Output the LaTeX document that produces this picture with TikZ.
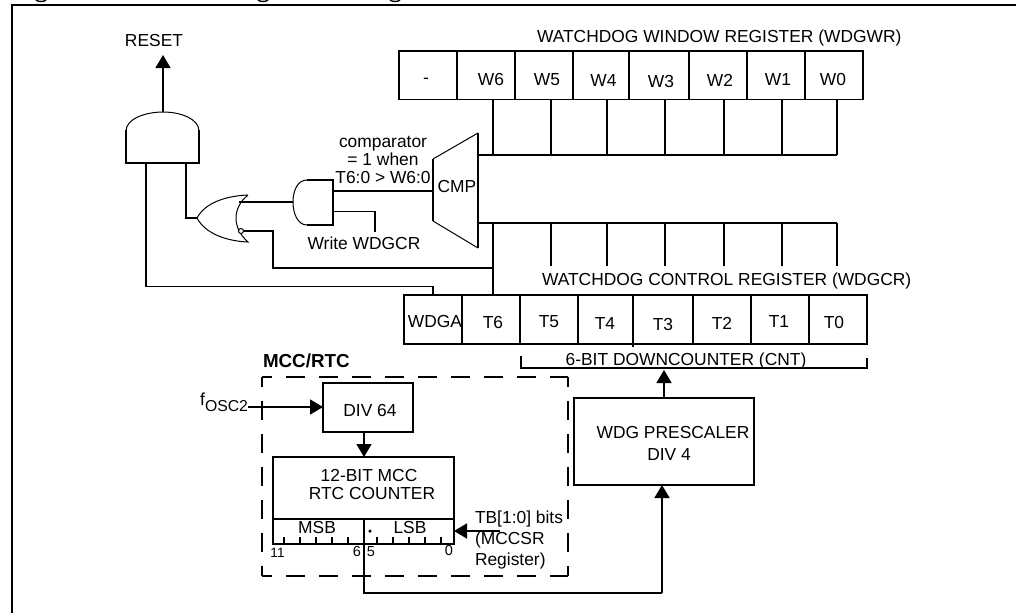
\documentclass[tikz,border=0pt]{standalone}
\usepackage{fontspec}
\setmainfont{Liberation Sans}
\usetikzlibrary{arrows.meta}
\newcommand{\regbox}[5]{%
  \pgfmathsetmacro{\bw}{#4-#2}\pgfmathsetmacro{\bh}{#5-#3}%
  \pgfmathsetmacro{\bx}{(#4+#2)/2}\pgfmathsetmacro{\by}{(#5+#3)/2}%
  \node[regcell,minimum width=\bw pt,minimum height=\bh pt] (#1) at (\bx,\by) {};}
\begin{document}
\begin{tikzpicture}[x=1pt,y=-1pt,
  wire/.style={line width=1.7pt,line cap=butt,line join=miter},
  thin gate/.style={line width=1pt},
  regcell/.style={draw,line width=1.7pt,inner sep=0pt,outer sep=0pt},
  lbl/.style={inner sep=0pt,outer sep=0pt,text height=12.5pt,text depth=0pt,font=\fontsize{17.4}{18}\selectfont},
  para/.style={inner sep=0pt,outer sep=0pt,font=\fontsize{17.4}{18}\selectfont},
  small lbl/.style={inner sep=0pt,outer sep=0pt,font=\fontsize{14.5}{15}\selectfont},
  flow/.style={wire,-{Triangle[length=13pt,width=15pt]}},
  dashbox/.style={line width=1.8pt,dash pattern=on 19pt off 14pt,dash phase=9pt}]
\useasboundingbox (0,0) rectangle (1016,613);
% frame and clipped title descenders
\draw[line width=2pt] (1016,5) -- (12,5) -- (12,613);
\foreach \gx in {41,263,395} \draw[line width=1.4pt] (\gx-5,0) .. controls (\gx-3,2) and (\gx+3,2) .. (\gx+5,0);
% WDGWR register
\regbox{wd}{399}{51}{457}{99.5}
\regbox{w6}{457}{51}{515}{99.5}
\regbox{w5}{515}{51}{573}{99.5}
\regbox{w4}{573}{51}{629}{99.5}
\regbox{w3}{629}{51}{689}{99.5}
\regbox{w2}{689}{51}{747}{99.5}
\regbox{w1}{747}{51}{805}{99.5}
\regbox{w0}{805}{51}{863}{99.5}
\node[lbl] (lwd) at (426,77) {-};
\node[lbl] (lw6) at (491,79) {W6};
\node[lbl] (lw5) at (547,79) {W5};
\node[lbl] (lw4) at (603.5,80.5) {W4};
\node[lbl] (lw3) at (661,81) {W3};
\node[lbl] (lw2) at (720,80.5) {W2};
\node[lbl] (lw1) at (778,79) {W1};
\node[lbl] (lw0) at (833,79) {W0};
\node[lbl,anchor=west] (wwrt) at (537,36) {WATCHDOG WINDOW REGISTER (WDGWR)};
% WDGCR register
\regbox{ta}{404}{295}{462}{344}
\regbox{t6}{462}{295}{520}{344}
\regbox{t5}{520}{295}{578}{344}
\regbox{t4}{578}{295}{633}{344}
\regbox{t3}{633}{295}{693}{344}
\regbox{t2}{693}{295}{751}{344}
\regbox{t1}{751}{295}{809}{344}
\regbox{t0}{809}{295}{867}{344}
\node[lbl] (lta) at (435,321.5) {WDGA};
\node[lbl] (lt6) at (493,322) {T6};
\node[lbl] (lt5) at (549,321) {T5};
\node[lbl] (lt4) at (605,323) {T4};
\node[lbl] (lt3) at (663,324) {T3};
\node[lbl] (lt2) at (722,323) {T2};
\node[lbl] (lt1) at (779,321) {T1};
\node[lbl] (lt0) at (834,322) {T0};
\node[lbl,anchor=west] (wcrt) at (542,279) {WATCHDOG CONTROL REGISTER (WDGCR)};
\coordinate (t3tick) at (633,346.5);
\draw[wire] (t3.south west) -- (t3tick);
% downcounter bracket
\node[lbl] (cntl) at (686,359) {6-BIT DOWNCOUNTER (CNT)};
\coordinate (brL) at (521,356);
\coordinate (brR) at (867,358);
\coordinate (brM) at (664,368);
\draw[wire] (brL) |- (brM) -| (brR);
% comparator
\coordinate (cmpTR) at (478,133);
\coordinate (cmpBR) at (478,248);
\coordinate (cmpTL) at (433,159);
\coordinate (cmpBL) at (433,221);
\draw[thin gate] (cmpTL) -- (cmpTR) (cmpBL) -- (cmpBR);
\draw[wire] (cmpTL) -- (cmpBL) (cmpTR) -- (cmpBR);
\node[lbl] (cmpl) at (457,186) {CMP};
% window bus
\coordinate (wbR) at (837,155);
\coordinate (wbL) at (478,155);
\draw[wire] (wbL) -- (wbR);
\foreach \vx in {493,551,607,665,724,782,837} \draw[wire] (\vx,99.5) -- (\vx,155);
% counter bus
\coordinate (cbL) at (478,223);
\coordinate (cbR) at (837,223);
\draw[wire] (cbL) -- (cbR);
\foreach \vx in {551,607,665,724,782,837} \draw[wire] (\vx,223) -- (\vx,266);
\coordinate (cb6) at (493,223);
\draw[wire] (cb6) -- (t6.north -| cb6);
% reset AND gate
\coordinate (and1BL) at (126,163);
\coordinate (and1BR) at (199,163);
\coordinate (and1top) at (163,112);
\draw[thin gate] (126,131) .. controls (126,119) and (145,112) .. (and1top) .. controls (181,112) and (199,119) .. (199,131);
\draw[wire] (126,130) -- (and1BL) -- (and1BR) -- (199,130);
\node[lbl] (rst) at (154,40) {RESET};
\coordinate (rstTip) at (163,55);
\draw[flow] (and1top) -- (rstTip);
% OR gate with bubble
\coordinate (orTip) at (197,218);
\coordinate (orT) at (248,195);
\coordinate (orB) at (248,242);
\draw[thin gate] (orT) .. controls (225,196) and (205,203) .. (orTip) .. controls (205,233) and (225,241) .. (orB) .. controls (232,228) and (232,208) .. (orT);
\node[draw,circle,line width=1pt,minimum size=5pt,inner sep=0pt,outer sep=0pt,fill=white] (bub) at (241,231) {};
% second AND gate
\coordinate (and2L) at (293,202);
\draw[thin gate] (307,180) .. controls (298,180) and (293,190) .. (and2L) .. controls (293,214) and (298,225) .. (307,225);
\draw[wire] (307,180) -- (333,180) -- (333,225) -- (307,225);
% gate wiring
\coordinate (orIn1) at (239,202);
\draw[wire] (orIn1) -- (and2L);
\draw[wire] (333,191) -- (cmpTL |- 0,191);
\coordinate (wrEnd) at (375,232);
\draw[wire] (333,211.5) -| (wrEnd);
\node[lbl] (wrl) at (364,243) {Write WDGCR};
\draw[wire] (and1BL -| 186,0) -- (186,218) -- (orTip);
\draw[wire] (bub.east) -- (273,231) -- (273,268) -- (493,268);
\draw[wire] (146,163) -- (146,286.5) -- (433,286.5) -- (ta.north -| 433,0);
\node[para,align=center] (cmpnote) at (383,160) {comparator\\= 1 when\\T6:0 > W6:0};
% MCC/RTC
\coordinate (dTL) at (262,377);
\coordinate (dTR) at (568,377);
\coordinate (dBL) at (262,576);
\coordinate (dBR) at (568,576);
\draw[dashbox] (dTL) -- (dTR);
\draw[dashbox] (dTL) -- (dBL);
\draw[dashbox] (dTR) -- (dBR);
\draw[dashbox] (dBL) -- (dBR);
\node[lbl,anchor=west,font=\fontsize{18.8}{19}\selectfont\bfseries] (mcct) at (263,361) {MCC/RTC};
\regbox{div}{323}{383}{413}{432}
\node[lbl] (divl) at (370,410) {DIV 64};
\node[inner sep=0pt,outer sep=0pt,anchor=base west,font=\fontsize{17.4}{18}\selectfont] (fosc) at (200,405) {f};
\node[inner sep=0pt,outer sep=0pt,anchor=base west,font=\fontsize{15.8}{18}\selectfont] (oscsub) at (205,411) {OSC2};
\coordinate (foscEnd) at (248,407);
\draw[flow] (foscEnd) -- (div.west |- foscEnd);
% counter
\regbox{ctr}{273}{457}{454}{544}
\coordinate (divL) at (273,519);
\coordinate (divR) at (454,519);
\draw[wire] (divL) -- (divR);
\coordinate (divMid) at (364,519);
\draw[flow] (div.south -| divMid) -- (ctr.north -| divMid);
\node[para,align=center] (ctrl) at (372,485) {12-BIT MCC\hspace*{6pt}\\RTC COUNTER};
\node[lbl] (msb) at (317,527) {MSB};
\node[lbl] (lsb) at (410,527) {LSB};
\node[circle,fill,minimum size=3.5pt,inner sep=0pt] (dot) at (370,531) {};
\foreach \tx in {284,300,316,332,348,377,393,409,425,441} \draw[line width=1.1pt] (\tx,537) -- (\tx,544);
\node[small lbl,font=\fontsize{13.5}{14}\selectfont] (b11) at (277.5,552.5) {11};
\node[small lbl] (b6) at (357,551) {6};
\node[small lbl] (b5) at (371,552) {5};
\node[small lbl] (b0) at (449,550) {0};
\coordinate (tbEnd) at (500,531);
\draw[flow] (tbEnd) -- (ctr.east |- tbEnd);
\node[para,align=left,anchor=west] (tbl) at (475,540) {TB[1:0] bits\\[2.5pt](MCCSR\\[3pt]Register)};
% prescaler
\regbox{pre}{574}{398}{754}{485}
\node[para,align=center] (prel) at (673,443) {WDG PRESCALER\\[4pt]DIV 4\hspace*{8pt}};
\coordinate (preIn) at (662,593);
\draw[wire] (divMid) -- (364,593) -- (preIn);
\draw[flow] (preIn) -- (pre.south -| preIn);
\coordinate (preOut) at (664,398);
\draw[flow] (preOut) -- (664,370);
\end{tikzpicture}
\end{document}
